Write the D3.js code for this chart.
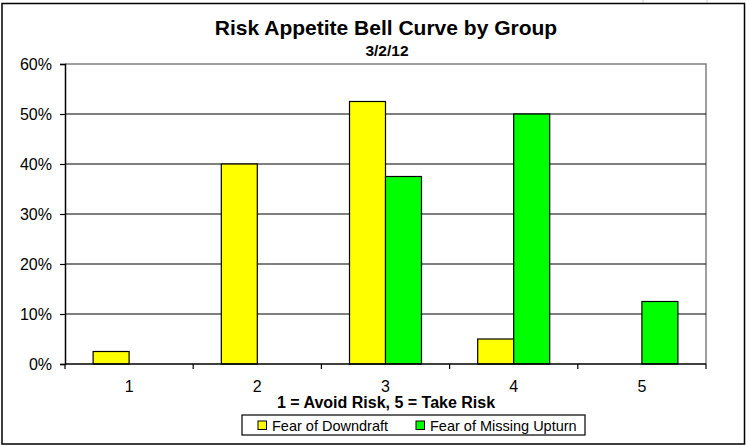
<!DOCTYPE html>
<html><head><meta charset="utf-8">
<script src="https://cdn.jsdelivr.net/npm/d3@7"></script>
<style>html,body{margin:0;padding:0;background:#fff;}svg{display:block;font-family:Arial,"Liberation Sans",sans-serif;}</style>
</head><body>
<svg id="c" width="746" height="446"></svg>
<script>
const categories = ["1","2","3","4","5"];
const seriesNames = ["Fear of Downdraft","Fear of Missing Upturn"];
const downdraft = [0.025,0.40,0.525,0.05,0];
const missingUpturn = [0,0,0.375,0.50,0.125];
const yTicks = [0,0.1,0.2,0.3,0.4,0.5,0.6];
const colors = ["#FFFF00","#00FF00"];
const title = "Risk Appetite Bell Curve by Group";
const subtitle = "3/2/12";
const xTitle = "1 = Avoid Risk, 5 = Take Risk";

const svg = d3.select("#c");
const L=65,R=706,T=64,B=364;

svg.append("rect").attr("x",0).attr("y",0).attr("width",746).attr("height",446).attr("fill","#fff");
[643,707].forEach(x=>svg.append("line").attr("x1",x).attr("x2",x).attr("y1",0).attr("y2",3).attr("stroke","#ccc"));
svg.append("rect").attr("x",2).attr("y",3.5).attr("width",742.5).attr("height",440.5)
  .attr("fill","#fff").attr("stroke","#000").attr("stroke-width",1.5);

const x = d3.scaleBand().domain(categories).range([L,R]).paddingInner(0.4384).paddingOuter(0.2192);
const xs = d3.scaleBand().domain(seriesNames).range([0,x.bandwidth()]);
const y = d3.scaleLinear().domain([0,0.6]).range([B,T]);

svg.append("path").attr("d",`M${L},${T}H${R}V${B}`).attr("fill","none").attr("stroke","#808080").attr("stroke-width",1.5);

svg.append("g").selectAll("line").data(yTicks.filter(t=>t>0&&t<0.6)).join("line")
  .attr("x1",L).attr("x2",R).attr("y1",d=>Math.round(y(d))).attr("y2",d=>Math.round(y(d)))
  .attr("stroke","#000").attr("stroke-width",1.2);

const data = categories.map((c,i)=>({c, vals:[downdraft[i],missingUpturn[i]]}));
const g = svg.append("g");
data.forEach(d=>{
  d.vals.forEach((v,j)=>{
    if(v<=0) return;
    g.append("rect").attr("x",x(d.c)+xs(seriesNames[j])).attr("y",y(v))
      .attr("width",xs.bandwidth()).attr("height",B-y(v))
      .attr("fill",colors[j]).attr("stroke","#000").attr("stroke-width",1.2);
  });
});

const yAxis = d3.axisLeft(y).tickValues(yTicks).tickFormat(d3.format(".0%")).tickSize(5).tickPadding(8);
const ya = svg.append("g").attr("transform",`translate(${L},0)`).call(yAxis);
ya.select(".domain").attr("stroke","#000").attr("stroke-width",1.5);
ya.selectAll(".tick line").attr("stroke","#000").attr("stroke-width",1.2);
ya.selectAll(".tick text").attr("font-size",16).attr("fill","#000").attr("font-family","Arial, 'Liberation Sans', sans-serif");

const xb = d3.scaleLinear().domain([0,5]).range([L,R]);
const xa = svg.append("g").attr("transform",`translate(0,${B})`);
xa.append("line").attr("x1",L).attr("x2",R).attr("stroke","#000").attr("stroke-width",1.5);
xa.selectAll("line.t").data(d3.range(0,6)).join("line").attr("class","t")
  .attr("x1",d=>xb(d)).attr("x2",d=>xb(d)).attr("y1",0).attr("y2",5).attr("stroke","#000").attr("stroke-width",1.2);
xa.selectAll("text").data(categories).join("text")
  .attr("x",d=>x(d)+x.bandwidth()/2).attr("y",28).attr("text-anchor","middle")
  .attr("font-size",16).attr("fill","#000").text(d=>d);

svg.append("text").attr("x",386).attr("y",35).attr("text-anchor","middle").attr("font-size",21).attr("font-weight","bold").text(title);
svg.append("text").attr("x",387).attr("y",55.5).attr("text-anchor","middle").attr("font-size",15.5).attr("font-weight","bold").text(subtitle);
svg.append("text").attr("x",386).attr("y",408).attr("text-anchor","middle").attr("font-size",16).attr("font-weight","bold").text(xTitle);

const lg = svg.append("g");
lg.append("rect").attr("x",242).attr("y",415).attr("width",343).attr("height",20).attr("fill","#fff").attr("stroke","#000").attr("stroke-width",1.2);
const legX = [258,416];
seriesNames.forEach((n,i)=>{
  lg.append("rect").attr("x",legX[i]).attr("y",421).attr("width",8.5).attr("height",8.5).attr("fill",colors[i]).attr("stroke","#000").attr("stroke-width",1);
  lg.append("text").attr("x",legX[i]+14).attr("y",430.5).attr("font-size",14.5).attr("fill","#000").text(n);
});
</script>
</body></html>
